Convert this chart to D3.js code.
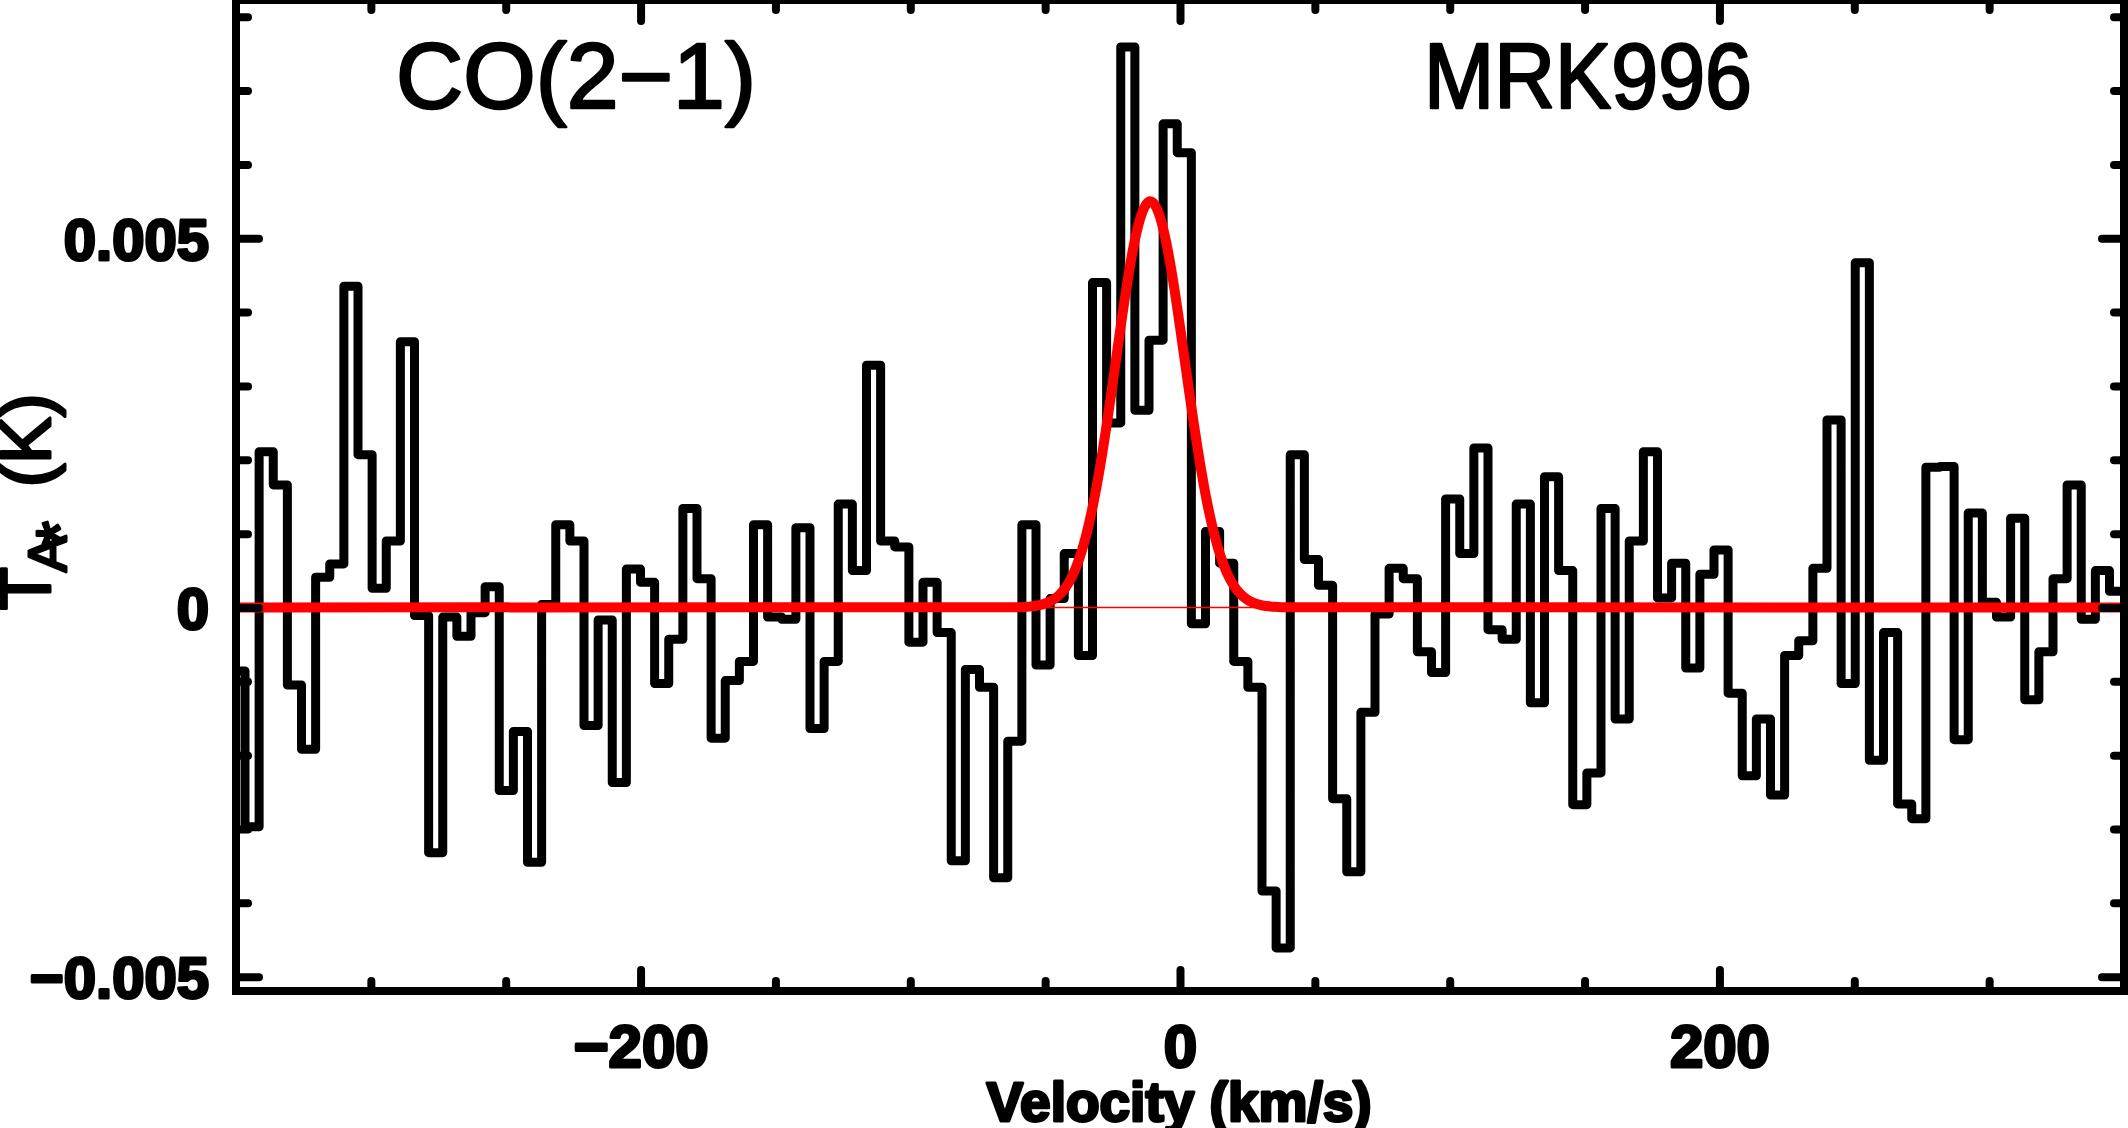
<!DOCTYPE html>
<html><head><meta charset="utf-8">
<script src="https://cdn.jsdelivr.net/npm/d3@7"></script>
<style>html,body{margin:0;padding:0;background:#fff;overflow:hidden}</style>
</head><body><svg id="c" width="2128" height="1128" xmlns="http://www.w3.org/2000/svg"></svg>
<script>
// ---- data ----
const channelValues = [
 -0.00086,-0.00297, 0.00211, 0.00166,-0.00105,-0.00192, 0.00041, 0.00059, 0.00435, 0.00207,
  0.00026, 0.00090, 0.00360,-0.00011,-0.00332,-0.00013,-0.00039,-0.00007, 0.00028,-0.00248,
 -0.00168,-0.00345, 0.00004, 0.00112, 0.00090,-0.00160,-0.00017,-0.00237, 0.00052, 0.00034,
 -0.00103,-0.00043, 0.00134, 0.00039,-0.00177,-0.00099,-0.00073, 0.00112,-0.00013,-0.00016,
  0.00108,-0.00164,-0.00073, 0.00140, 0.00050, 0.00328, 0.00090, 0.00082,-0.00047, 0.00034,
 -0.00034,-0.00343,-0.00084,-0.00108,-0.00366,-0.00181, 0.00112,-0.00078, 0.00012, 0.00073,
 -0.00065, 0.00440, 0.00250, 0.00759, 0.00267, 0.00362, 0.00655, 0.00616,-0.00022, 0.00103,
  0.00060,-0.00073,-0.00108,-0.00384,-0.00461, 0.00207, 0.00065, 0.00030,-0.00259,-0.00358,
 -0.00142,-0.00009, 0.00053, 0.00039,-0.00060,-0.00088, 0.00147, 0.00073, 0.00216,-0.00030,
 -0.00043, 0.00140,-0.00129, 0.00177, 0.00050,-0.00267,-0.00224, 0.00134,-0.00151, 0.00090,
  0.00211, 0.00013, 0.00060,-0.00082, 0.00045, 0.00078,-0.00116,-0.00228,-0.00151,-0.00254,
 -0.00065,-0.00045, 0.00053, 0.00254,-0.00103, 0.00467,-0.00207,-0.00034,-0.00266,-0.00286,
  0.00190, 0.00191,-0.00179, 0.00128, 0.00007,-0.00013, 0.00121,-0.00125,-0.00060, 0.00039,
  0.00166,-0.00016, 0.00050, 0.00022
];
const firstChannelEdge = -351.9;   // km/s, left edge of first channel
const channelWidth = 5.237;        // km/s

const fitVelocities = [-350,-60,-55,-50,-47.5,-45,-42.5,-40,-37.5,-35,-32.5,-30,-27.5,-25,-22.5,-20,-17.5,-15,-12.5,-11,-10,-7.5,-5,-2.5,0,2.5,5,7.5,10,12.5,15,17.5,20,22.5,25,27.5,30,35,40,350];
const fitValues = [0,0.000004,0.000015,0.000053,0.000094,0.000162,0.000266,0.000422,0.000645,0.000948,0.001342,0.001828,0.002396,0.003024,0.003674,0.004296,0.004835,0.005238,0.005462,0.0055,0.005483,0.005298,0.004927,0.004412,0.003802,0.003154,0.002518,0.001936,0.001432,0.00102,0.000699,0.000461,0.000293,0.000179,0.000105,0.00006,0.000033,0.000009,0.000002,0];

const xMajorTicks = [-200, 0, 200];
const xMajorLabels = ["\u2212200", "0", "200"];
const xMinorTicks = [-300,-250,-150,-100,-50,50,100,150,250,300];
const yMajorTicks = [-0.005, 0, 0.005];
const yMajorLabels = ["\u22120.005", "0", "0.005"];
const yMinorTicks = [-0.004,-0.003,-0.002,-0.001,0.001,0.002,0.003,0.004,0.006,0.007,0.008];
const xDomain = [-350, 350];
const yDomain = [-0.005194, 0.008227];
const lineName = "CO(2\u22121)";
const sourceName = "MRK996";
const xTitle = "Velocity (km/s)";

// ---- layout ----
const L = 236, R = 2124, T = 0, B = 991;
const svg = d3.select("#c");
const x = d3.scaleLinear().domain(xDomain).range([L, R]);
const y = d3.scaleLinear().domain(yDomain).range([B, T]);

svg.append("defs").append("clipPath").attr("id","clip")
  .append("rect").attr("x",L).attr("y",T).attr("width",R-L).attr("height",B-T);

const plot = svg.append("g").attr("clip-path","url(#clip)");

// histogram
const pts = channelValues.map((v,k)=>[firstChannelEdge + k*channelWidth, v]);
pts.push([firstChannelEdge + channelValues.length*channelWidth, channelValues[channelValues.length-1]]);
plot.append("path")
  .attr("d", d3.line().x(d=>x(d[0])).y(d=>y(d[1])).curve(d3.curveStepAfter)(pts))
  .attr("fill","none").attr("stroke","#000").attr("stroke-width",9)
  .attr("stroke-linejoin","round").attr("stroke-linecap","round");

// thin zero baseline
plot.append("path")
  .attr("d", d3.line().x(d=>x(d[0])).y(d=>y(d[1]))([[xDomain[0],0],[xDomain[1],0]]))
  .attr("stroke","#ff0000").attr("stroke-width",1.5).attr("fill","none");

// gaussian fit
const fitPts = fitVelocities.map((v,i)=>[v, fitValues[i]]);
plot.append("path")
  .attr("d", d3.line().x(d=>x(d[0])).y(d=>y(d[1])).curve(d3.curveMonotoneX)(fitPts))
  .attr("fill","none").attr("stroke","#ff0000").attr("stroke-width",10)
  .attr("stroke-linejoin","round");

// axes
function styleAxis(g){
  g.select(".domain").remove();
  g.selectAll(".tick line").attr("stroke","#000").attr("stroke-width",8).attr("stroke-linecap","round");
  g.selectAll(".tick text")
    .attr("font-family","'Liberation Sans', Arial, sans-serif")
    .attr("font-weight","bold").attr("fill","#000")
    .attr("stroke","#000").attr("stroke-width",3).attr("stroke-linejoin","round");
}
// left
svg.append("g").attr("transform",`translate(${L},0)`)
  .call(d3.axisLeft(y).tickValues(yMajorTicks).tickSize(-23).tickPadding(27)
    .tickFormat((d,i)=>yMajorLabels[i]))
  .call(styleAxis)
  .call(g=>g.selectAll(".tick text").attr("font-size",58).attr("dy","0.36em"));
svg.append("g").attr("transform",`translate(${L},0)`)
  .call(d3.axisLeft(y).tickValues(yMinorTicks).tickSize(-12).tickFormat(""))
  .call(styleAxis);
// right
svg.append("g").attr("transform",`translate(${R},0)`)
  .call(d3.axisRight(y).tickValues(yMajorTicks).tickSize(-22).tickFormat(""))
  .call(styleAxis);
svg.append("g").attr("transform",`translate(${R},0)`)
  .call(d3.axisRight(y).tickValues(yMinorTicks).tickSize(-10).tickFormat(""))
  .call(styleAxis);
// bottom
svg.append("g").attr("transform",`translate(0,${B})`)
  .call(d3.axisBottom(x).tickValues(xMajorTicks).tickSize(-21).tickPadding(33)
    .tickFormat((d,i)=>xMajorLabels[i]))
  .call(styleAxis)
  .call(g=>g.selectAll(".tick text").attr("font-size",60));
svg.append("g").attr("transform",`translate(0,${B})`)
  .call(d3.axisBottom(x).tickValues(xMinorTicks).tickSize(-10).tickFormat(""))
  .call(styleAxis);
// top
svg.append("g").attr("transform",`translate(0,${T})`)
  .call(d3.axisTop(x).tickValues(xMajorTicks).tickSize(-21).tickFormat(""))
  .call(styleAxis);
svg.append("g").attr("transform",`translate(0,${T})`)
  .call(d3.axisTop(x).tickValues(xMinorTicks).tickSize(-10).tickFormat(""))
  .call(styleAxis);

// frame
svg.append("rect").attr("x",L).attr("y",T).attr("width",R-L).attr("height",B-T)
  .attr("fill","none").attr("stroke","#000").attr("stroke-width",8);

// titles inside plot
const titleFont = "'Liberation Sans', Arial, sans-serif";
svg.append("text").attr("x",396).attr("y",108).text(lineName)
  .attr("font-family",titleFont).attr("font-size",92).attr("fill","#000")
  .attr("stroke","#000").attr("stroke-width",2.5).attr("stroke-linejoin","round")
  .attr("textLength",360).attr("lengthAdjust","spacingAndGlyphs");
svg.append("text").attr("x",1424).attr("y",108).text(sourceName)
  .attr("font-family",titleFont).attr("font-size",92).attr("fill","#000")
  .attr("stroke","#000").attr("stroke-width",2.5).attr("stroke-linejoin","round")
  .attr("textLength",328).attr("lengthAdjust","spacingAndGlyphs");

// x title
svg.append("text").attr("x",1179).attr("y",1121).attr("text-anchor","middle")
  .text(xTitle)
  .attr("font-family",titleFont).attr("font-weight","bold").attr("font-size",55).attr("fill","#000")
  .attr("stroke","#000").attr("stroke-width",3).attr("stroke-linejoin","round");

// y title
const yt = svg.append("text").attr("transform","translate(50,610) rotate(-90)")
  .attr("font-family",titleFont).attr("fill","#000")
  .attr("stroke","#000").attr("stroke-width",3).attr("stroke-linejoin","round");
yt.append("tspan").attr("x",0).attr("y",0).attr("font-size",70).text("T");
yt.append("tspan").attr("x",38).attr("y",16).attr("font-size",54).text("A");
yt.append("tspan").attr("x",64).attr("y",32).attr("font-size",64).text("*");
yt.append("tspan").attr("x",123).attr("y",0).attr("font-size",70).text("(K)");
</script></body></html>
